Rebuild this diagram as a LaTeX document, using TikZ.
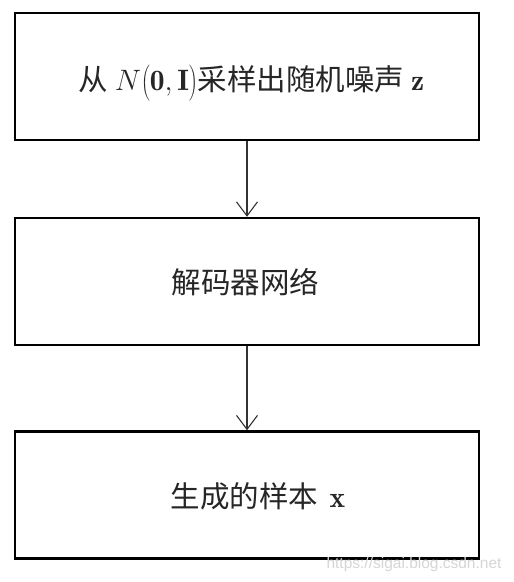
\RequirePackage{fix-cm}
\documentclass[tikz,border=0pt]{standalone}
\usepackage{fontspec}
\newfontfamily\cjk{Noto Sans CJK SC}
\newfontfamily\wmfont{Liberation Sans}
\usetikzlibrary{arrows.meta}
\begin{document}
\begin{tikzpicture}[x=1pt,y=-1pt,
  stagebox/.style={draw=black,line width=2.5pt,minimum width=464pt,minimum height=127pt,inner sep=0pt},
  label/.style={anchor=base west,inner sep=0pt,text=black!85,font=\fontsize{29.5}{35}\selectfont\cjk},
  flow/.style={draw=black!80,line width=1.1pt,-{Straight Barb[length=14pt,width=21pt,line width=1.1pt]}},
  watermark/.style={inner sep=0pt,text=black!16,font=\fontsize{15.5}{18}\selectfont\wmfont}]
\useasboundingbox (0,0) rectangle (514,582);
\fill[white] (0,0) rectangle (514,582);
\node[stagebox] (top) at (247,76.5) {};
\node[stagebox] (mid) at (247,281.5) {};
\node[stagebox] (bot) at (247,495) {};
\node[label] (toptext) at (78.5,90.5) {从 $N{\left(\vcenter{\hbox{\rule{0pt}{34pt}}}\mathbf{0},\mathbf{I}\right)}$采样出随机噪声 $\mathbf{z}$};
\node[label] (midtext) at (171.5,293) {解码器网络};
\node[label] (bottext) at (170.5,507) {生成的样本 \,$\mathbf{x}$};
\draw[flow] (top.south) -- (mid.north);
\draw[flow] (mid.south) -- (bot.north);
\node[watermark] (wm) at (414,564) {https://sigai.blog.csdn.net};
\end{tikzpicture}
\end{document}
